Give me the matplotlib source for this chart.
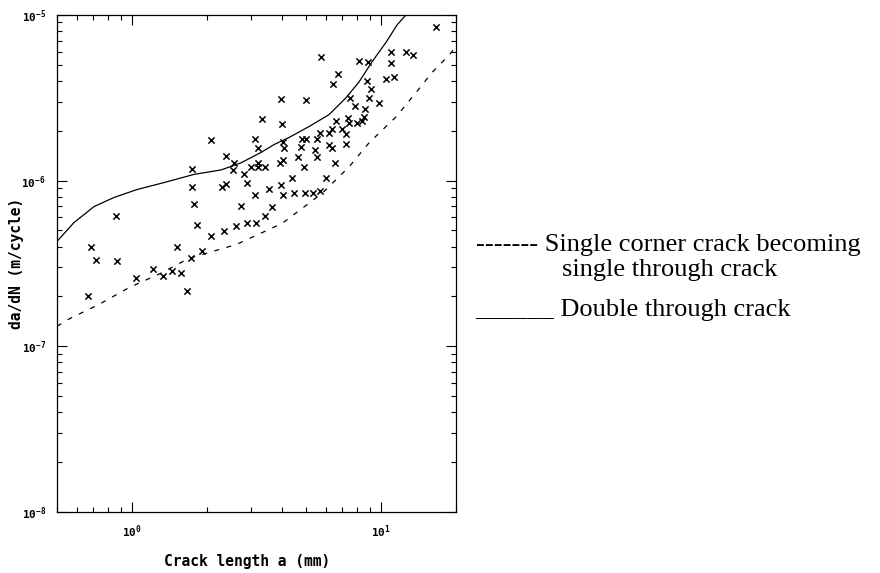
import matplotlib
matplotlib.use("Agg")
import matplotlib.pyplot as plt
from matplotlib.ticker import LogLocator, NullFormatter

plt.rcParams['mathtext.default'] = 'regular'

# Double through crack (solid curve)
double_a = [0.5, 0.585, 0.704, 0.847, 1.047, 1.345, 1.774, 2.28, 2.74, 3.30,
            3.72, 4.27, 5.14, 6.18, 7.23, 8.16, 9.20, 10.5, 11.6, 12.6]
double_rate = [4.30e-7, 5.58e-7, 6.97e-7, 7.91e-7, 8.83e-7, 9.73e-7, 1.09e-6,
               1.16e-6, 1.28e-6, 1.48e-6, 1.65e-6, 1.82e-6, 2.12e-6, 2.50e-6,
               3.16e-6, 3.94e-6, 5.21e-6, 6.87e-6, 8.71e-6, 1.0e-5]

# Single corner crack becoming single through crack (dashed curve)
single_a = [0.5, 0.558, 0.737, 0.973, 1.28, 1.69, 2.62, 4.0, 5.79, 7.44,
            8.95, 11.5, 13.8, 16.0, 18.8, 19.8]
single_rate = [1.32e-7, 1.46e-7, 1.79e-7, 2.26e-7, 2.72e-7, 3.39e-7, 4.11e-7,
               5.51e-7, 8.36e-7, 1.21e-6, 1.69e-6, 2.43e-6, 3.39e-6, 4.48e-6,
               5.74e-6, 6.32e-6]

# measured points
test_a = [3.33, 2.08, 3.12, 3.21, 2.39, 1.74, 2.57, 2.55, 2.82, 3.01,
          3.21, 3.21, 3.42, 1.74, 2.30, 2.39, 2.90, 3.55, 1.77, 2.74,
          3.12, 3.65, 0.86, 1.82, 2.08, 2.34, 2.62, 2.90, 3.15, 3.42,
          0.684, 1.52, 1.91, 1.73, 0.717, 0.87, 1.21, 1.45, 1.57, 1.33,
          1.04, 1.66, 0.666, 16.6, 5.74, 8.16, 8.87, 11.0, 12.6, 13.4,
          11.0, 6.72, 6.41, 8.79, 10.5, 11.3, 9.12, 3.97, 5.00, 7.51,
          8.95, 7.86, 8.62, 9.82, 4.00, 6.59, 7.37, 7.44, 8.01, 8.55,
          8.39, 5.69, 6.18, 6.36, 6.97, 7.23, 4.04, 4.08, 4.82, 5.00,
          5.53, 4.77, 5.43, 6.18, 6.36, 7.23, 3.93, 4.04, 4.64, 5.53,
          4.91, 6.53, 4.39, 6.01, 3.97, 4.04, 4.47, 4.95, 5.33, 5.69]
test_rate = [2.36e-6, 1.77e-6, 1.79e-6, 1.58e-6, 1.40e-6, 1.18e-6, 1.27e-6, 1.16e-6, 1.09e-6, 1.21e-6,
             1.28e-6, 1.21e-6, 1.20e-6, 9.2e-7, 9.1e-7, 9.6e-7, 9.7e-7, 8.95e-7, 7.2e-7, 7.06e-7,
             8.24e-7, 6.97e-7, 6.15e-7, 5.36e-7, 4.60e-7, 4.93e-7, 5.29e-7, 5.58e-7, 5.58e-7, 6.15e-7,
             3.95e-7, 3.95e-7, 3.78e-7, 3.43e-7, 3.30e-7, 3.25e-7, 2.91e-7, 2.83e-7, 2.75e-7, 2.64e-7,
             2.57e-7, 2.17e-7, 2.00e-7, 8.47e-6, 5.58e-6, 5.28e-6, 5.21e-6, 5.98e-6, 5.98e-6, 5.74e-6,
             5.14e-6, 4.41e-6, 3.84e-6, 4.00e-6, 4.11e-6, 4.23e-6, 3.58e-6, 3.12e-6, 3.08e-6, 3.16e-6,
             3.16e-6, 2.83e-6, 2.72e-6, 2.95e-6, 2.20e-6, 2.30e-6, 2.40e-6, 2.23e-6, 2.23e-6, 2.43e-6,
             2.30e-6, 1.95e-6, 1.95e-6, 2.06e-6, 2.06e-6, 1.92e-6, 1.72e-6, 1.58e-6, 1.79e-6, 1.79e-6,
             1.79e-6, 1.60e-6, 1.54e-6, 1.63e-6, 1.58e-6, 1.67e-6, 1.28e-6, 1.34e-6, 1.38e-6, 1.38e-6,
             1.20e-6, 1.28e-6, 1.04e-6, 1.03e-6, 9.46e-7, 8.24e-7, 8.47e-7, 8.47e-7, 8.47e-7, 8.71e-7]

fig = plt.figure(figsize=(8.8, 5.73), dpi=100)
ax = fig.add_axes([0.0648, 0.1065, 0.4534, 0.8675])

ax.plot(double_a, double_rate, color='black', lw=0.9)
ax.plot(single_a, single_rate, color='black', lw=0.9, ls=(0, (4, 6)))
ax.scatter(test_a, test_rate, marker='x', color='black', s=20, lw=1.1, clip_on=False)

ax.set_xscale('log')
ax.set_yscale('log')
ax.set_xlim(0.5, 20)
ax.set_ylim(1e-8, 1e-5)

ax.xaxis.set_major_locator(LogLocator(base=10))
ax.yaxis.set_major_locator(LogLocator(base=10))
ax.xaxis.set_minor_locator(LogLocator(base=10, subs=range(2, 10)))
ax.yaxis.set_minor_locator(LogLocator(base=10, subs=range(2, 10)))
ax.xaxis.set_minor_formatter(NullFormatter())
ax.yaxis.set_minor_formatter(NullFormatter())

ax.tick_params(which='both', direction='in', top=True, right=True, width=0.8,
               labelsize=8)
ax.tick_params(which='major', length=7, pad=8)
ax.tick_params(which='minor', length=3.5)
for lab in ax.get_xticklabels() + ax.get_yticklabels():
    lab.set_family('DejaVu Sans Mono')
    lab.set_fontweight('bold')
for sp in ax.spines.values():
    sp.set_linewidth(0.9)

ax.set_xlabel('Crack length a (mm)', family='DejaVu Sans Mono',
              fontweight='bold', fontsize=10.5)
ax.set_ylabel('da/dN (m/cycle)', family='DejaVu Sans Mono',
              fontweight='bold', fontsize=10.5)
ax.xaxis.set_label_coords(0.476, -0.085)
ax.yaxis.set_label_coords(-0.083, 0.5)

# legend written as text to the right of the plot
fig.text(476 / 880, 1 - 245 / 573, '------- Single corner crack becoming',
         family='Liberation Serif', fontsize=19, va='center', ha='left')
fig.text(562 / 880, 1 - 270 / 573, 'single through crack',
         family='Liberation Serif', fontsize=19, va='center', ha='left')
fig.text(475 / 880, 1 - 310 / 573, '______ Double through crack',
         family='Liberation Serif', fontsize=19, va='center', ha='left')

fig.savefig('out.png', dpi=100)
